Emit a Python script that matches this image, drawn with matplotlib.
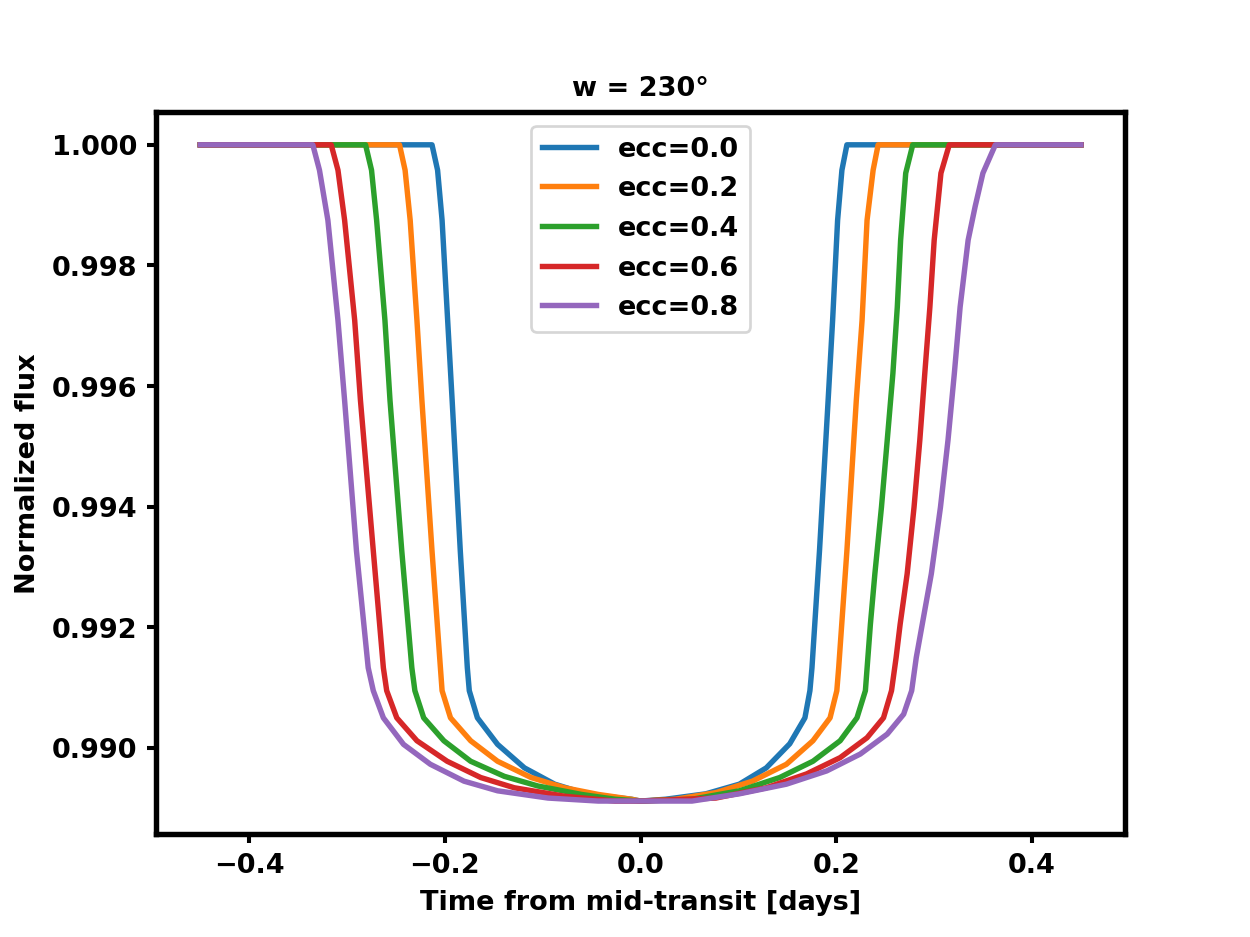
import matplotlib
matplotlib.use("Agg")
import matplotlib.pyplot as plt
from matplotlib.ticker import FormatStrFormatter

plt.rcParams['font.family'] = ['DejaVu Sans']
plt.rcParams['font.weight'] = 'bold'
plt.rcParams['axes.labelweight'] = 'bold'
plt.rcParams['axes.titleweight'] = 'bold'

labels = ["ecc=0.0", "ecc=0.2", "ecc=0.4", "ecc=0.6", "ecc=0.8"]
colors = ["#1f77b4", "#ff7f0e", "#2ca02c", "#d62728", "#9467bd"]

t_ecc00 = [-0.45,
           -0.2132, -0.2075, -0.2029, -0.1972, -0.1926, -0.1843, -0.1771, -0.1751,
           -0.1668, -0.1462, -0.1187, -0.0878, -0.0536, -0.0093, 0.0, 0.0254, 0.0666, 0.1009,
           0.1284, 0.1524, 0.1679,
           0.1730, 0.1751, 0.1828, 0.1916, 0.1962, 0.2013, 0.2057, 0.2108,
           0.45]
f_ecc00 = [1.0,
           1.0, 0.99958, 0.99875, 0.99709, 0.99576, 0.99327, 0.99133, 0.99095,
           0.99050, 0.99006, 0.98967, 0.98940, 0.98923, 0.98915, 0.98912, 0.98915, 0.98924, 0.98940,
           0.98967, 0.99007, 0.99050,
           0.99095, 0.99133, 0.99327, 0.99576, 0.99709, 0.99875, 0.99958, 1.0,
           1.0]

t_ecc02 = [-0.45,
           -0.2464, -0.2407, -0.2355, -0.2286, -0.2235, -0.2132, -0.2046, -0.2029,
           -0.1943, -0.1737, -0.1462, -0.1119, -0.0775, -0.0433, -0.0093, 0.0, 0.0357, 0.0769,
           0.1143, 0.1490, 0.1761, 0.1936,
           0.2005, 0.2024, 0.2108, 0.2204, 0.2263, 0.2314, 0.2376, 0.2427,
           0.45]
f_ecc02 = [1.0,
           1.0, 0.99958, 0.99875, 0.99709, 0.99576, 0.99327, 0.99133, 0.99095,
           0.99050, 0.99012, 0.98978, 0.98951, 0.98934, 0.98923, 0.98915, 0.98912, 0.98915, 0.98926,
           0.98945, 0.98973, 0.99012, 0.99050,
           0.99095, 0.99133, 0.99327, 0.99576, 0.99709, 0.99875, 0.99958, 1.0,
           1.0]

t_ecc04 = [-0.45,
           -0.2811, -0.2750, -0.2698, -0.2613, -0.2561, -0.2441, -0.2338, -0.2307,
           -0.2217, -0.2011, -0.1737, -0.1393, -0.1050, -0.0605, -0.0261, 0.0, 0.0525, 0.1009,
           0.1421, 0.1761, 0.2039, 0.2211,
           0.2297, 0.2348, 0.2394, 0.2461, 0.2520, 0.2578, 0.2623, 0.2657, 0.2709, 0.2781,
           0.45]
f_ecc04 = [1.0,
           1.0, 0.99958, 0.99875, 0.99709, 0.99576, 0.99327, 0.99133, 0.99095,
           0.99050, 0.99012, 0.98978, 0.98953, 0.98937, 0.98923, 0.98915, 0.98912, 0.98915, 0.98929,
           0.98951, 0.98978, 0.99012, 0.99050,
           0.99095, 0.99205, 0.99289, 0.99399, 0.99510, 0.99621, 0.99731, 0.99842, 0.99953, 1.0,
           1.0]

t_ecc06 = [-0.45,
           -0.3162, -0.3093, -0.3025, -0.2922, -0.2863, -0.2732, -0.2629, -0.2595,
           -0.2492, -0.2286, -0.1977, -0.1634, -0.1290, -0.0775, -0.0261, 0.0, 0.0769, 0.1284,
           0.1696, 0.2039, 0.2314, 0.2482,
           0.2564, 0.2611, 0.2652, 0.2724, 0.2794, 0.2853, 0.2904, 0.2956, 0.3000, 0.3069, 0.3154,
           0.45]
f_ecc06 = [1.0,
           1.0, 0.99958, 0.99875, 0.99709, 0.99576, 0.99327, 0.99133, 0.99095,
           0.99050, 0.99012, 0.98978, 0.98951, 0.98934, 0.98920, 0.98912, 0.98912, 0.98917, 0.98934,
           0.98957, 0.98984, 0.99017, 0.99050,
           0.99095, 0.99150, 0.99205, 0.99289, 0.99399, 0.99510, 0.99621, 0.99731, 0.99842, 0.99953, 1.0,
           1.0]

t_ecc08 = [-0.45,
           -0.3350, -0.3282, -0.3196, -0.3093, -0.3025, -0.2904, -0.2784, -0.2732,
           -0.2629, -0.2423, -0.2149, -0.1805, -0.1462, -0.0947, -0.0433, 0.0, 0.0525, 0.1009,
           0.1490, 0.1902, 0.2245, 0.2520, 0.2688,
           0.2770, 0.2817, 0.2878, 0.2971, 0.3064, 0.3141, 0.3206, 0.3265, 0.3347, 0.3419, 0.3498, 0.3625,
           0.45]
f_ecc08 = [1.0,
           1.0, 0.99958, 0.99875, 0.99709, 0.99576, 0.99327, 0.99133, 0.99095,
           0.99050, 0.99006, 0.98973, 0.98945, 0.98929, 0.98917, 0.98912, 0.98912, 0.98912, 0.98924,
           0.98940, 0.98962, 0.98990, 0.99023, 0.99056,
           0.99095, 0.99150, 0.99205, 0.99289, 0.99399, 0.99510, 0.99621, 0.99731, 0.99842, 0.99898, 0.99953, 1.0,
           1.0]

times = [t_ecc00, t_ecc02, t_ecc04, t_ecc06, t_ecc08]
fluxes = [f_ecc00, f_ecc02, f_ecc04, f_ecc06, f_ecc08]

fig, ax = plt.subplots(figsize=(6.4, 4.8), dpi=195.3125)
for t, f, lab, c in zip(times, fluxes, labels, colors):
    ax.plot(t, f, color=c, lw=2, label=lab)

ax.set_xticks([-0.4, -0.2, 0.0, 0.2, 0.4])
ax.set_yticks([0.990, 0.992, 0.994, 0.996, 0.998, 1.000])
ax.yaxis.set_major_formatter(FormatStrFormatter('%.3f'))
ax.set_xlabel("Time from mid-transit [days]")
ax.set_ylabel("Normalized flux")
ax.set_title("w = 230°", fontsize=10)
for s in ax.spines.values():
    s.set_linewidth(2)
ax.tick_params(width=1.5)
ax.legend(loc='upper center')

fig.savefig("out.png", dpi=195.3125)
